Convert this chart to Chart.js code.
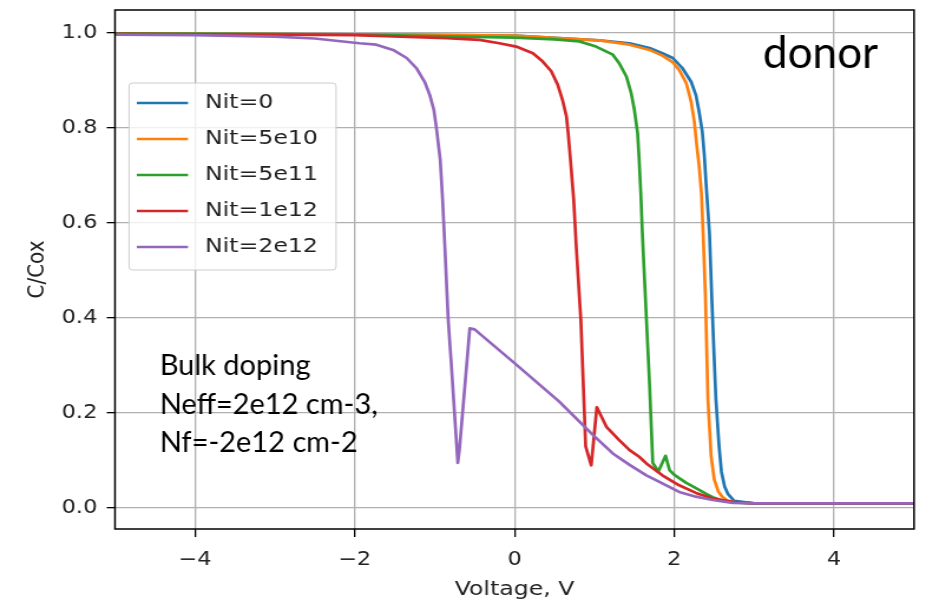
<!DOCTYPE html>
<html>
<head>
<meta charset="utf-8">
<script src="https://cdn.jsdelivr.net/npm/chart.js@4/dist/chart.umd.min.js"></script>
<style>
  html, body { margin: 0; padding: 0; background: #fff; overflow: hidden; }
  /* the original plot was stretched sideways, so we draw narrow and stretch it */
  #wrap { width: 785px; height: 602px; transform: scaleX(1.17962); transform-origin: 0 0; }
</style>
</head>
<body>
<div id="wrap"><canvas id="cvChart"></canvas></div>
<script>
var S = 926 / 785;

// axes
var vMin = -5, vMax = 5;
var cMin = -0.044, cMax = 1.048;
var xTicks = [-4, -2, 0, 2, 4];
var yTicks = [0, 0.2, 0.4, 0.6, 0.8, 1.0];

// series (voltage, C/Cox)
var seriesNames = ["Nit=0", "Nit=5e10", "Nit=5e11", "Nit=1e12", "Nit=2e12"];
var seriesColors = ["#1f77b4", "#ff7f0e", "#2ca02c", "#d62728", "#9467bd"];

var vNit0 = [-5, -2, 0, 1.06, 1.44, 1.69, 1.85, 1.98, 2.1, 2.21, 2.27, 2.31, 2.35, 2.375, 2.4, 2.44, 2.47, 2.5, 2.52, 2.56, 2.59, 2.63, 2.67, 2.75, 3.0, 5];
var cNit0 = [0.999, 0.997, 0.994, 0.984, 0.978, 0.968, 0.957, 0.947, 0.926, 0.897, 0.869, 0.834, 0.792, 0.743, 0.676, 0.578, 0.438, 0.31, 0.23, 0.13, 0.076, 0.045, 0.03, 0.015, 0.01, 0.01];

var vNit5e10 = [-5, -2, 0, 1.06, 1.44, 1.69, 1.85, 1.98, 2.06, 2.15, 2.21, 2.25, 2.28, 2.31, 2.34, 2.36, 2.39, 2.42, 2.46, 2.5, 2.55, 2.6, 2.66, 2.75, 3.0, 5];
var cNit5e10 = [0.999, 0.997, 0.994, 0.984, 0.975, 0.964, 0.952, 0.938, 0.922, 0.894, 0.855, 0.813, 0.764, 0.72, 0.66, 0.58, 0.44, 0.23, 0.11, 0.06, 0.035, 0.024, 0.016, 0.012, 0.01, 0.01];

var vNit5e11 = [-5, -2, 0, 0.5, 0.81, 1.02, 1.23, 1.31, 1.4, 1.46, 1.5, 1.54, 1.56, 1.58, 1.6, 1.65, 1.69, 1.73, 1.8, 1.89, 1.94, 2.0, 2.06, 2.15, 2.27, 2.4, 2.48, 2.6, 2.75, 3.0, 5];
var cNit5e11 = [0.999, 0.996, 0.99, 0.986, 0.982, 0.971, 0.954, 0.936, 0.908, 0.873, 0.838, 0.789, 0.733, 0.663, 0.578, 0.4, 0.26, 0.095, 0.077, 0.11, 0.08, 0.07, 0.063, 0.053, 0.042, 0.03, 0.023, 0.016, 0.012, 0.01, 0.01];

var vNit1e12 = [-5, -2, -0.85, -0.44, -0.19, 0.02, 0.23, 0.35, 0.46, 0.54, 0.6, 0.65, 0.675, 0.7, 0.74, 0.775, 0.83, 0.89, 0.96, 1.03, 1.15, 1.31, 1.44, 1.56, 1.65, 1.85, 2.06, 2.27, 2.48, 2.73, 3.0, 5];
var cNit1e12 = [0.998, 0.995, 0.989, 0.985, 0.978, 0.971, 0.957, 0.94, 0.919, 0.891, 0.859, 0.824, 0.782, 0.733, 0.65, 0.543, 0.396, 0.13, 0.09, 0.212, 0.171, 0.143, 0.122, 0.108, 0.094, 0.069, 0.048, 0.032, 0.02, 0.013, 0.01, 0.01];

var vNit2e12 = [-5, -4, -3, -2.5, -1.94, -1.73, -1.52, -1.35, -1.23, -1.125, -1.06, -1.01, -0.98, -0.95, -0.93, -0.9, -0.87, -0.83, -0.79, -0.71, -0.69, -0.56, -0.5, 0, 0.56, 0.98, 1.23, 1.44, 1.65, 1.85, 2.06, 2.27, 2.48, 2.73, 3.0, 5];
var cNit2e12 = [0.996, 0.995, 0.992, 0.988, 0.978, 0.975, 0.964, 0.947, 0.926, 0.897, 0.869, 0.838, 0.803, 0.761, 0.733, 0.648, 0.543, 0.396, 0.3, 0.095, 0.122, 0.378, 0.376, 0.305, 0.224, 0.154, 0.115, 0.091, 0.069, 0.052, 0.034, 0.024, 0.017, 0.011, 0.01, 0.01];

var seriesV = [vNit0, vNit5e10, vNit5e11, vNit1e12, vNit2e12];
var seriesC = [cNit0, cNit5e10, cNit5e11, cNit1e12, cNit2e12];

// text notes, anchored in data units
var noteDonor = { text: "donor", v: 3.11, c: 0.926 };
var noteBulk = { lines: ["Bulk doping", "Neff=2e12 cm-3,", "Nf=-2e12 cm-2"], v: -4.44, c: 0.28 };

var datasets = [];
seriesNames.forEach(function (name, i) {
    datasets.push({
        label: name,
        data: seriesV[i].map(function (v, j) { return { x: v, y: seriesC[i][j] }; }),
        borderColor: seriesColors[i],
        backgroundColor: seriesColors[i],
        borderWidth: 2.7,
        borderJoinStyle: 'round',
        pointRadius: 0,
        tension: 0,
        fill: false,
        order: seriesNames.length - i
    });
});

var framePlugin = {
    id: 'frame',
    afterDatasetsDraw: function (chart) {
        var a = chart.chartArea, ctx = chart.ctx;
        ctx.save();
        ctx.strokeStyle = '#000';
        ctx.lineWidth = 1.5;
        ctx.strokeRect(a.left, a.top, a.right - a.left, a.bottom - a.top);
        ctx.restore();
    }
};

var legendPlugin = {
    id: 'boxLegend',
    afterDraw: function (chart) {
        var ctx = chart.ctx;
        var x0 = 109.4, y0 = 83, w = 175.5, h = 187;
        ctx.save();
        ctx.fillStyle = 'rgba(255,255,255,0.8)';
        ctx.strokeStyle = '#cccccc';
        ctx.lineWidth = 1;
        ctx.beginPath();
        ctx.roundRect(x0, y0, w, h, 3);
        ctx.fill();
        ctx.stroke();
        ctx.font = '20px "DejaVu Sans"';
        ctx.textBaseline = 'middle';
        chart.data.datasets.forEach(function (ds, i) {
            var y = 103 + i * 36;
            ctx.strokeStyle = ds.borderColor;
            ctx.lineWidth = 2.7;
            ctx.beginPath();
            ctx.moveTo(116, y);
            ctx.lineTo(159.4, y);
            ctx.stroke();
            ctx.fillStyle = '#222';
            ctx.fillText(ds.label, 173.8, y);
        });
        ctx.restore();
    }
};

var notesPlugin = {
    id: 'notes',
    afterDraw: function (chart) {
        var ctx = chart.ctx, xs = chart.scales.x, ys = chart.scales.y;
        ctx.save();
        ctx.fillStyle = '#000';
        ctx.textBaseline = 'alphabetic';
        // these notes were not stretched in the original, so undo the stretch
        var px = xs.getPixelForValue(noteDonor.v), py = ys.getPixelForValue(noteDonor.c);
        ctx.save();
        ctx.translate(px, py);
        ctx.scale(1 / S, 1);
        ctx.font = '44px Lato';
        ctx.fillText(noteDonor.text, 0, 0);
        ctx.restore();

        px = xs.getPixelForValue(noteBulk.v);
        py = ys.getPixelForValue(noteBulk.c);
        noteBulk.lines.forEach(function (t, i) {
            ctx.save();
            ctx.translate(px, py + i * 38.5);
            ctx.scale(1 / S, 1);
            ctx.font = '29px Lato';
            ctx.fillText(t, 0, 0);
            ctx.restore();
        });
        ctx.restore();
    }
};

var ctxEl = document.getElementById('cvChart');
var cvChart = new Chart(ctxEl, {
    type: 'line',
    data: { datasets: datasets },
    options: {
        responsive: true,
        maintainAspectRatio: false,
        animation: false,
        layout: { padding: { top: 10, right: 10.15, left: 0, bottom: 0 } },
        plugins: {
            legend: { display: false },
            tooltip: { enabled: false }
        },
        scales: {
            x: {
                type: 'linear',
                min: vMin,
                max: vMax,
                afterBuildTicks: function (s) { s.ticks = xTicks.map(function (v) { return { value: v }; }); },
                afterFit: function (s) { s.height = 73; s.paddingLeft = 0; s.paddingRight = 0; },
                grid: { color: '#b0b0b0', lineWidth: 1.3, tickColor: '#000', tickLength: 8 },
                border: { display: false },
                ticks: {
                    color: '#222',
                    font: { family: 'DejaVu Sans', size: 19 },
                    padding: 12,
                    maxRotation: 0,
                    callback: function (v) { return v < 0 ? '\u2212' + Math.abs(v) : String(v); }
                },
                title: {
                    display: true,
                    text: 'Voltage, V',
                    color: '#222',
                    font: { family: 'DejaVu Sans', size: 20 },
                    padding: { top: 0, bottom: 0 }
                }
            },
            y: {
                type: 'linear',
                min: cMin,
                max: cMax,
                afterBuildTicks: function (s) { s.ticks = yTicks.map(function (v) { return { value: v }; }); },
                afterFit: function (s) { s.width = 115 / S; s.paddingTop = 0; s.paddingBottom = 0; },
                grid: { color: '#b0b0b0', lineWidth: 1.3, tickColor: '#000', tickLength: 7 },
                border: { display: false },
                ticks: {
                    color: '#222',
                    font: { family: 'DejaVu Sans', size: 19 },
                    padding: 8,
                    callback: function (v) { return v.toFixed(1); }
                },
                title: {
                    display: true,
                    text: 'C/Cox',
                    color: '#222',
                    font: { family: 'DejaVu Sans', size: 20 },
                    padding: { top: 20, bottom: 0 }
                }
            }
        }
    },
    plugins: [framePlugin, legendPlugin, notesPlugin]
});
</script>
</body>
</html>
